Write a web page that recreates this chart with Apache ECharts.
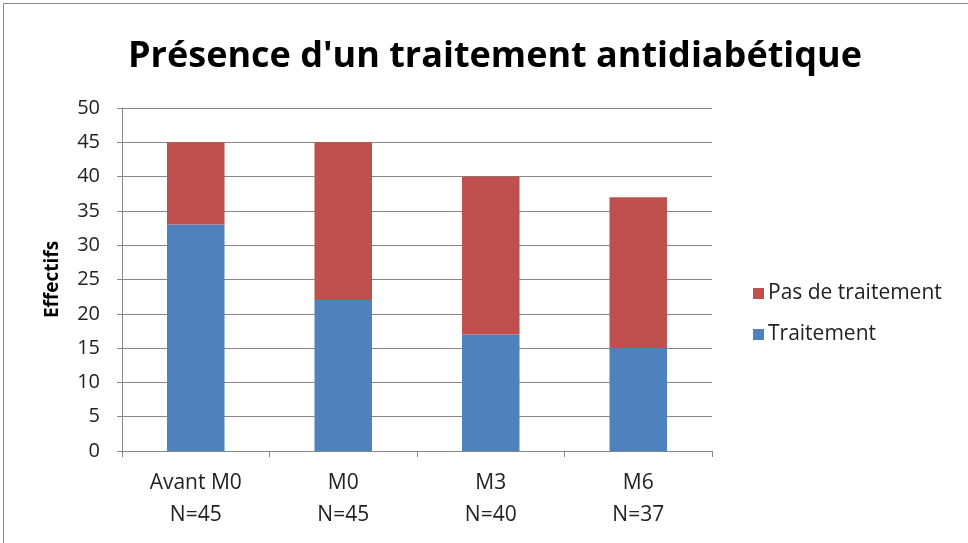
<!DOCTYPE html>
<html>
<head>
<meta charset="utf-8">
<script src="https://cdn.jsdelivr.net/npm/echarts@6/dist/echarts.min.js"></script>
<style>
  html, body { margin: 0; padding: 0; background: #fff; }
  #chart { width: 968px; height: 543px; }
</style>
</head>
<body>
<div id="chart"></div>
<script>
const categories = ['Avant M0\nN=45', 'M0\nN=45', 'M3\nN=40', 'M6\nN=37']
const traitement = [33, 22, 17, 15]
const pasDeTraitement = [12, 23, 23, 22]
const yTicks = { min: 0, max: 50, interval: 5 }

const chart = echarts.init(document.getElementById('chart'), null, { renderer: 'canvas' })

chart.setOption({
  backgroundColor: '#fff',
  animation: false,
  textStyle: { fontFamily: 'Open Sans' },
  title: {
    text: "Présence d'un traitement antidiabétique",
    left: 490,
    textAlign: 'center',
    top: 34,
    textStyle: { fontSize: 36, fontWeight: 'bold', color: '#000', fontFamily: 'Open Sans' },
  },
  legend: {
    orient: 'vertical',
    left: 748,
    top: 278,
    itemWidth: 11,
    itemHeight: 11,
    itemGap: 20,
    icon: 'rect',
    data: ['Pas de traitement', 'Traitement'],
    textStyle: { fontSize: 21, color: '#222', padding: [0, 0, 0, -1] },
  },
  grid: { left: 122, right: 256, top: 108, bottom: 92, containLabel: false },
  xAxis: {
    type: 'category',
    data: categories,
    axisLine: { lineStyle: { color: '#868686' } },
    axisTick: { show: true, alignWithLabel: false, length: 6, lineStyle: { color: '#868686' } },
    axisLabel: { color: '#222', fontSize: 21, lineHeight: 32, margin: 16 },
  },
  yAxis: {
    type: 'value',
    ...yTicks,
    name: 'Effectifs',
    nameLocation: 'middle',
    nameGap: 60,
    nameTextStyle: { fontSize: 19, fontWeight: 'bold', color: '#000' },
    axisLine: { show: true, lineStyle: { color: '#868686' } },
    axisTick: { show: true, length: 5, lineStyle: { color: '#868686' } },
    axisLabel: { color: '#222', fontSize: 20, margin: 22 },
    splitLine: { lineStyle: { color: '#868686', width: 1 } },
  },
  series: [
    {
      name: 'Traitement',
      type: 'bar',
      stack: 'total',
      barWidth: '39%',
      data: traitement,
      itemStyle: { color: '#4F81BD' },
    },
    {
      name: 'Pas de traitement',
      type: 'bar',
      stack: 'total',
      barWidth: '39%',
      data: pasDeTraitement,
      itemStyle: { color: '#C0504D' },
    },
  ],
  graphic: [
    {
      type: 'rect',
      shape: { x: 3.5, y: 3.5, width: 970, height: 545 },
      style: { fill: 'none', stroke: '#888', lineWidth: 1 },
      silent: true,
    },
  ],
})
</script>
</body>
</html>
